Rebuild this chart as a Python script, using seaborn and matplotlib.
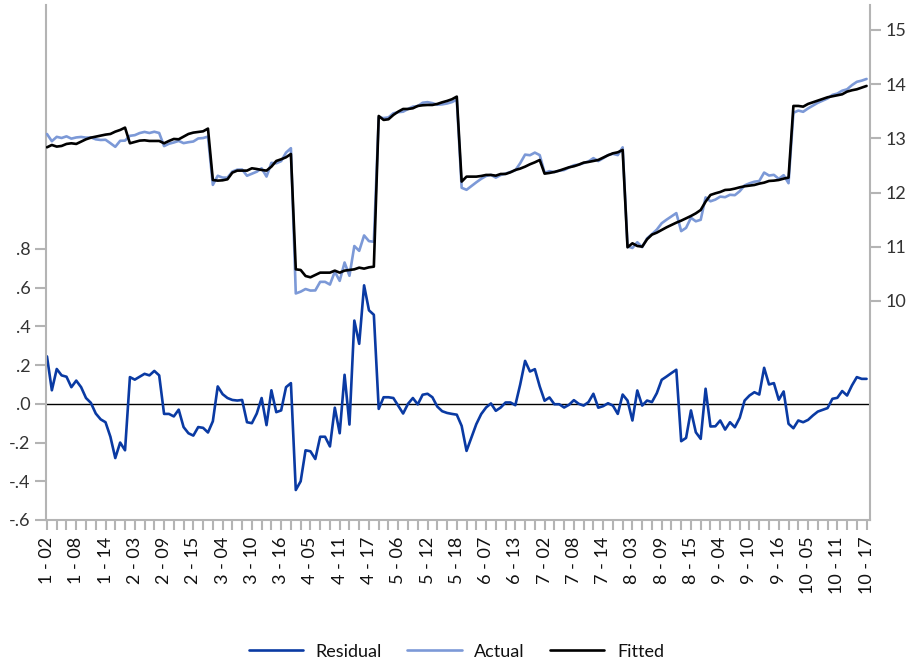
import numpy as np
import pandas as pd
import matplotlib
matplotlib.use("Agg")
import matplotlib.pyplot as plt
import seaborn as sns

# Residual / Actual / Fitted, 169 stacked panel observations
residual = [
    0.245, 0.07, 0.18, 0.147, 0.14, 0.086, 0.12, 0.086, 0.03, 0.005, -0.05, -0.08, -0.095, -0.17, -0.28, -0.2, -0.24,
    0.138, 0.125, 0.14, 0.155, 0.147, 0.17, 0.147, -0.052, -0.052, -0.065, -0.03, -0.12, -0.152, -0.164, -0.12, -0.124, -0.148,
    -0.09, 0.09, 0.05, 0.03, 0.02, 0.017, 0.02, -0.095, -0.1, -0.05, 0.03, -0.11, 0.07, -0.043, -0.034, 0.086, 0.107,
    -0.445, -0.4, -0.24, -0.245, -0.285, -0.17, -0.17, -0.22, -0.02, -0.152, 0.15, -0.107, 0.43, 0.31, 0.612, 0.483, 0.46,
    -0.026, 0.034, 0.034, 0.03, -0.01, -0.05, 0.0, 0.03, -0.003, 0.047, 0.052, 0.034, -0.014, -0.038, -0.047, -0.052, -0.056,
    -0.114, -0.243, -0.174, -0.105, -0.053, -0.019, 0.002, -0.036, -0.019, 0.007, 0.007, -0.007, 0.10, 0.222, 0.167, 0.179, 0.09,
    0.016, 0.033, -0.002, -0.002, -0.019, -0.005, 0.019, 0.0, -0.009, 0.009, 0.052, -0.02, -0.012, 0.003, -0.009, -0.052, 0.048,
    0.017, -0.086, 0.069, -0.009, 0.017, 0.009, 0.055, 0.124, 0.141, 0.159, 0.176, -0.193, -0.176, -0.034, -0.147, -0.181, 0.078,
    -0.117, -0.116, -0.086, -0.133, -0.095, -0.121, -0.072, 0.017, 0.043, 0.06, 0.048, 0.186, 0.1, 0.107, 0.021, 0.064, -0.103,
    -0.126, -0.086, -0.095, -0.083, -0.06, -0.04, -0.031, -0.022, 0.026, 0.031, 0.066, 0.043, 0.095, 0.138, 0.129, 0.129,
]

actual = [
    13.08, 12.948, 13.028, 13.007, 13.037, 12.995, 13.017, 13.026, 13.013, 13.018, 12.982, 12.97, 12.974, 12.911, 12.844, 12.955, 12.958,
    13.047, 13.059, 13.098, 13.119, 13.099, 13.122, 13.099, 12.857, 12.9, 12.924, 12.953, 12.912, 12.929, 12.942, 12.998, 13.006, 13.032,
    12.142, 12.31, 12.276, 12.275, 12.388, 12.422, 12.425, 12.31, 12.348, 12.385, 12.447, 12.295, 12.548, 12.54, 12.58, 12.737, 12.819,
    10.139, 10.172, 10.221, 10.192, 10.195, 10.353, 10.353, 10.303, 10.54, 10.371, 10.71, 10.465, 11.014, 10.925, 11.209, 11.104, 11.093,
    13.387, 13.374, 13.386, 13.462, 13.483, 13.492, 13.542, 13.585, 13.595, 13.657, 13.668, 13.65, 13.621, 13.627, 13.643, 13.669, 13.714,
    12.088, 12.051, 12.12, 12.189, 12.253, 12.306, 12.327, 12.276, 12.324, 12.35, 12.381, 12.41, 12.542, 12.7, 12.689, 12.737, 12.691,
    12.365, 12.395, 12.378, 12.403, 12.416, 12.461, 12.504, 12.515, 12.543, 12.574, 12.635, 12.581, 12.633, 12.691, 12.715, 12.691, 12.834,
    11.007, 10.978, 11.084, 10.993, 11.155, 11.233, 11.316, 11.434, 11.5, 11.561, 11.621, 11.289, 11.349, 11.534, 11.47, 11.498, 11.911,
    11.839, 11.87, 11.925, 11.915, 11.959, 11.952, 12.025, 12.133, 12.171, 12.2, 12.213, 12.369, 12.314, 12.327, 12.253, 12.321, 12.173,
    13.472, 13.512, 13.49, 13.552, 13.605, 13.656, 13.696, 13.736, 13.802, 13.826, 13.879, 13.905, 13.982, 14.043, 14.065, 14.096,
]

fitted = [
    12.835, 12.878, 12.848, 12.86, 12.897, 12.909, 12.897, 12.94, 12.983, 13.013, 13.032, 13.05, 13.069, 13.081, 13.124, 13.155, 13.198,
    12.909, 12.934, 12.958, 12.964, 12.952, 12.952, 12.952, 12.909, 12.952, 12.989, 12.983, 13.032, 13.081, 13.106, 13.118, 13.13, 13.18,
    12.232, 12.22, 12.226, 12.245, 12.368, 12.405, 12.405, 12.405, 12.448, 12.435, 12.417, 12.405, 12.478, 12.583, 12.614, 12.651, 12.712,
    10.584, 10.572, 10.461, 10.437, 10.48, 10.523, 10.523, 10.523, 10.56, 10.523, 10.56, 10.572, 10.584, 10.615, 10.597, 10.621, 10.633,
    13.413, 13.34, 13.352, 13.432, 13.493, 13.542, 13.542, 13.555, 13.598, 13.61, 13.616, 13.616, 13.635, 13.665, 13.69, 13.721, 13.77,
    12.202, 12.294, 12.294, 12.294, 12.306, 12.325, 12.325, 12.312, 12.343, 12.343, 12.374, 12.417, 12.442, 12.478, 12.522, 12.558, 12.601,
    12.349, 12.362, 12.38, 12.405, 12.435, 12.466, 12.485, 12.515, 12.552, 12.565, 12.583, 12.601, 12.645, 12.688, 12.724, 12.743, 12.786,
    10.99, 11.064, 11.015, 11.002, 11.138, 11.224, 11.261, 11.31, 11.359, 11.402, 11.445, 11.482, 11.525, 11.568, 11.617, 11.679, 11.833,
    11.956, 11.986, 12.011, 12.048, 12.054, 12.073, 12.097, 12.116, 12.128, 12.14, 12.165, 12.183, 12.214, 12.22, 12.232, 12.257, 12.276,
    13.598, 13.598, 13.585, 13.635, 13.665, 13.696, 13.727, 13.758, 13.776, 13.795, 13.813, 13.862, 13.887, 13.905, 13.936, 13.967,
]

tick_labels = [
    "1 - 02", "1 - 08", "1 - 14", "2 - 03", "2 - 09", "2 - 15", "3 - 04", "3 - 10", "3 - 16",
    "4 - 05", "4 - 11", "4 - 17", "5 - 06", "5 - 12", "5 - 18", "6 - 07", "6 - 13", "7 - 02",
    "7 - 08", "7 - 14", "8 - 03", "8 - 09", "8 - 15", "9 - 04", "9 - 10", "9 - 16", "10 - 05",
    "10 - 11", "10 - 17",
]

left_ticks = [-0.6, -0.4, -0.2, 0.0, 0.2, 0.4, 0.6, 0.8]
left_tick_labels = ["-.6", "-.4", "-.2", ".0", ".2", ".4", ".6", ".8"]
right_ticks = [10, 11, 12, 13, 14, 15]

RESID_COLOR = "#0a3aa3"
ACTUAL_COLOR = "#7c99d7"
FITTED_COLOR = "#000000"
AXIS_GRAY = "#b4b4b4"
TEXT_COLOR = "#333333"

sns.set_theme(style="white")
plt.rcParams["font.family"] = ["Lato", "DejaVu Sans"]

df = pd.DataFrame({
    "obs": np.arange(len(residual)),
    "Residual": residual,
    "Actual": actual,
    "Fitted": fitted,
})

W, H = 913, 665
fig = plt.figure(figsize=(W / 100, H / 100), dpi=100)
ax = fig.add_axes([46 / W, 1 - 520 / H, (870 - 46) / W, (520 - 5) / H])
ax2 = ax.twinx()

# residual on the left scale
sns.lineplot(data=df, x="obs", y="Residual", ax=ax, color=RESID_COLOR, linewidth=1.9)
ax.axhline(0, color="black", linewidth=1.0, zorder=1)

# actual and fitted on the right scale
sns.lineplot(data=df, x="obs", y="Actual", ax=ax2, color=ACTUAL_COLOR, linewidth=1.9)
sns.lineplot(data=df, x="obs", y="Fitted", ax=ax2, color=FITTED_COLOR, linewidth=1.9)

ax.set_xlim(-0.2, 168.7)
ax.set_ylim(-0.6, 2.06)
ax2.set_ylim(5.96, 15.46)

for a in (ax, ax2):
    a.set_xlabel("")
    a.set_ylabel("")
    for side in ("top", "left", "right", "bottom"):
        a.spines[side].set_color(AXIS_GRAY)
        a.spines[side].set_linewidth(1.5)
    a.spines["top"].set_visible(False)
ax.spines["right"].set_visible(False)
ax2.spines["left"].set_visible(False)
ax2.spines["bottom"].set_visible(False)

ax.set_yticks(left_ticks)
ax.set_yticklabels(left_tick_labels)
ax2.set_yticks(right_ticks)
ax2.set_yticklabels([str(t) for t in right_ticks])

ax.set_xticks(range(0, len(residual), 6))
ax.set_xticklabels(tick_labels, rotation=90)
ax.set_xticks(range(0, len(residual), 2), minor=True)

ax.tick_params(axis="y", which="major", left=True, direction="out", length=8, width=1.5,
               color=AXIS_GRAY, labelsize=13, labelcolor=TEXT_COLOR, pad=3)
ax2.tick_params(axis="y", which="major", right=True, direction="out", length=8, width=1.5,
                color=AXIS_GRAY, labelsize=13, labelcolor=TEXT_COLOR, pad=3)
ax.tick_params(axis="x", which="both", bottom=True, direction="out", length=7, width=1.5,
               color=AXIS_GRAY, labelsize=13, labelcolor="#111111", pad=5)

handles = [ax.lines[0], ax2.lines[0], ax2.lines[1]]
fig.legend(handles, ["Residual", "Actual", "Fitted"], loc="center",
           bbox_to_anchor=(0.5, 0.02), ncol=3, frameon=False, fontsize=13,
           handlelength=3.0, columnspacing=1.4, handletextpad=0.7,
           labelcolor="#111111")

fig.savefig("out.png", dpi=100)
